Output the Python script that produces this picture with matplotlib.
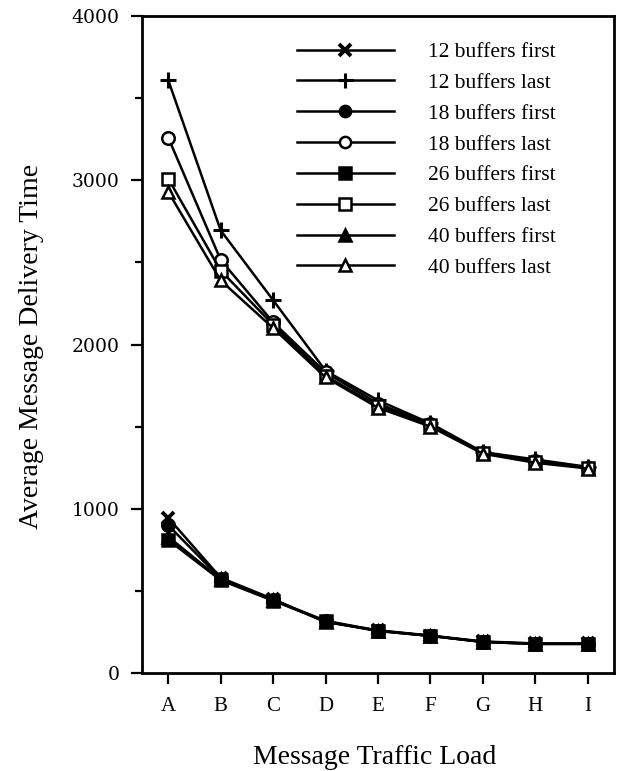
import matplotlib
matplotlib.use("Agg")
import matplotlib.pyplot as plt

# traffic load levels
loads = ["A", "B", "C", "D", "E", "F", "G", "H", "I"]

# average message delivery time per series
b12_first = [945, 580, 450, 310, 260, 228, 192, 180, 180]
b12_last = [3610, 2695, 2270, 1840, 1660, 1520, 1345, 1300, 1255]
b18_first = [900, 575, 445, 318, 258, 226, 190, 178, 178]
b18_last = [3260, 2515, 2135, 1830, 1640, 1515, 1340, 1290, 1250]
b26_first = [810, 565, 440, 315, 256, 226, 189, 177, 177]
b26_last = [3010, 2450, 2120, 1810, 1625, 1510, 1340, 1285, 1250]
b40_first = [830, 570, 445, 312, 256, 226, 189, 177, 177]
b40_last = [2930, 2390, 2100, 1800, 1615, 1500, 1335, 1280, 1245]

series_names = ["12 buffers first", "12 buffers last", "18 buffers first", "18 buffers last",
                "26 buffers first", "26 buffers last", "40 buffers first", "40 buffers last"]
series_values = [b12_first, b12_last, b18_first, b18_last,
                 b26_first, b26_last, b40_first, b40_last]

# marker, filled?
styles = [("X", True), ("+", True), ("o", True), ("o", False),
          ("s", True), ("s", False), ("^", True), ("^", False)]

plt.rcParams["font.family"] = ["Liberation Serif", "DejaVu Serif"]

W, H = 618, 771
fig = plt.figure(figsize=(W / 100, H / 100), dpi=100)
ax = fig.add_axes([142 / W, 1 - 673 / H, (614 - 142) / W, (673 - 16) / H])

x = list(range(len(loads)))
for name, vals, (mk, filled) in zip(series_names, series_values, styles):
    if mk == "+":
        ax.plot(x, vals, color="black", lw=1.8, marker="+", ms=12, mew=2.2, label=name)
    elif mk == "X":
        ax.plot(x, vals, color="black", lw=1.8, marker="x", ms=9, mew=2.8, label=name)
    else:
        ax.plot(x, vals, color="black", lw=1.8, marker=mk, ms=9, mew=1.8,
                mfc="black" if filled else "white", mec="black", label=name)

ax.set_xlim(-0.5, len(loads) - 0.5)
ax.set_ylim(0, 4000)
ax.set_xticks(x)
ax.set_xticklabels(loads, fontsize=15)
ax.set_yticks([0, 1000, 2000, 3000, 4000])
ax.set_yticks([500, 1500, 2500, 3500], minor=True)
ax.set_yticklabels(["0", "1000", "2000", "3000", "4000"], fontsize=13.5, family="DejaVu Serif")

ax.tick_params(axis="both", which="major", direction="out", length=8, width=1.6, colors="black")
ax.tick_params(axis="y", which="major", pad=8)
ax.tick_params(axis="x", which="major", pad=9)
ax.tick_params(axis="y", which="minor", direction="out", length=5, width=1.6)
for sp in ax.spines.values():
    sp.set_linewidth(2)

fig.text(375 / W, 1 - 757 / H, "Message Traffic Load", fontsize=20, ha="center", va="center")
fig.text(32 / W, 1 - 346 / H, "Average Message Delivery Time", fontsize=20,
         rotation=90, ha="center", va="center")

ax.legend(loc="upper left", bbox_to_anchor=(297 / W, 1 - 42 / H), bbox_transform=fig.transFigure,
          frameon=False, fontsize=15.5, handlelength=4.5, handletextpad=1.6,
          labelspacing=0.5, borderpad=0, borderaxespad=0, markerscale=0.9)

fig.savefig("out.png", dpi=100)
